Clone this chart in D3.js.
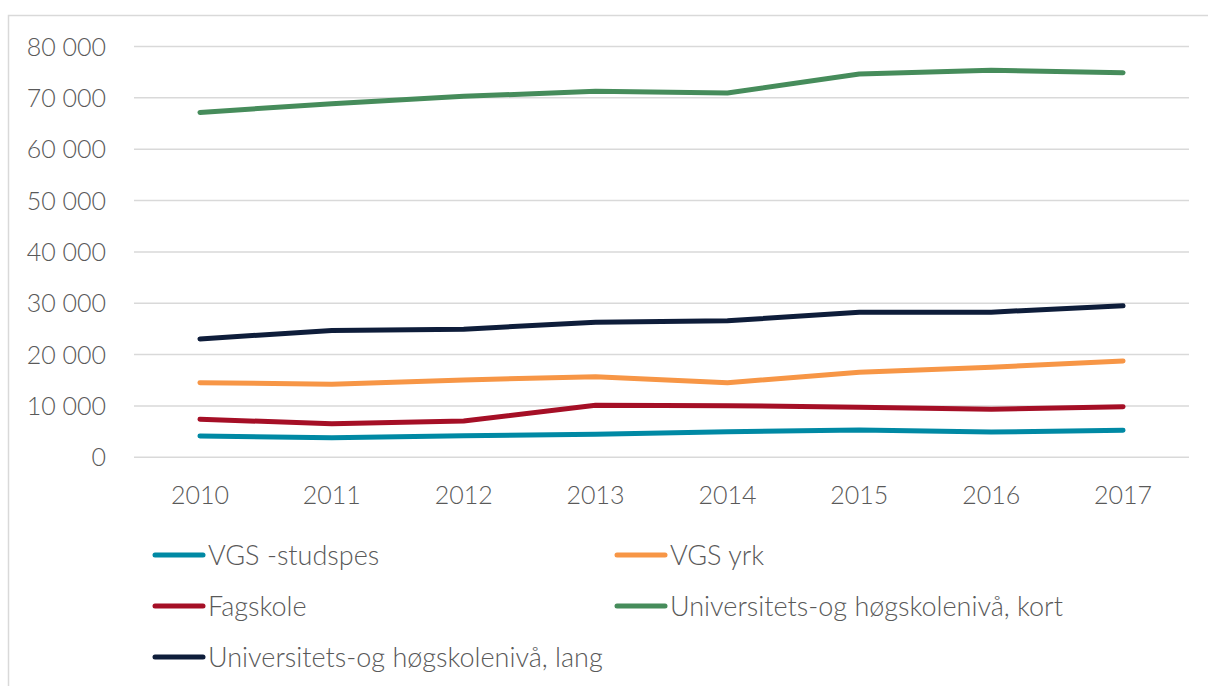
<!DOCTYPE html>
<html><head><meta charset="utf-8">
<script src="https://cdn.jsdelivr.net/npm/d3@7"></script>
<style>html,body{margin:0;padding:0;background:#fff;}svg{display:block;font-family:Lato,"Open Sans",sans-serif;font-weight:300;}</style>
</head><body>
<svg id="c" width="1208" height="686"></svg>
<script>
const years = ["2010","2011","2012","2013","2014","2015","2016","2017"];
const seriesNames = ["VGS -studspes","VGS yrk","Fagskole","Universitets-og høgskolenivå, kort","Universitets-og høgskolenivå, lang"];
const studspes = [4150,3820,4210,4480,4990,5320,4930,5260];
const yrk = [14540,14230,15070,15710,14540,16570,17540,18770];
const fagskole = [7410,6550,7080,10140,10060,9750,9360,9860];
const kort = [67170,68850,70290,71270,70950,74660,75360,74910];
const lang = [23060,24680,24950,26320,26570,28270,28270,29490];
const colors = ["#0089A4","#F79646","#A50F26","#468C5B","#0E1D3A"];
const yTicks = [0,10000,20000,30000,40000,50000,60000,70000,80000];

const values = [studspes, yrk, fagskole, kort, lang];
const svg = d3.select("#c");
svg.append("rect").attr("x",8.5).attr("y",15.5).attr("width",1250).attr("height",700)
  .attr("fill","none").attr("stroke","#d9d9d9").attr("stroke-width",1.5);

const x = d3.scaleBand().domain(years).range([134,1189]);
const y = d3.scaleLinear().domain([0,80000]).range([457.3,46.5]);
const fmt = v => d3.format(",")(v).replace(/,/g," ");

const g = svg.append("g");
g.selectAll("line.grid").data(yTicks).join("line").attr("class","grid")
  .attr("x1",134).attr("x2",1189).attr("y1",d=>y(d)).attr("y2",d=>y(d))
  .attr("stroke","#d9d9d9").attr("stroke-width",1.5);
g.selectAll("text.yl").data(yTicks).join("text").attr("class","yl")
  .attr("x",106).attr("y",d=>y(d)).attr("dy","0.36em").attr("text-anchor","end")
  .attr("fill","#595959").attr("font-size",25).text(fmt);
g.selectAll("text.xl").data(years).join("text").attr("class","xl")
  .attr("x",d=>x(d)+x.bandwidth()/2).attr("y",504).attr("text-anchor","middle")
  .attr("fill","#595959").attr("font-size",25).text(d=>d);

const line = d3.line().x((d,i)=>x(years[i])+x.bandwidth()/2).y(d=>y(d));
values.forEach((vals,k)=>{
  svg.append("path").datum(vals).attr("d",line).attr("fill","none")
    .attr("stroke",colors[k]).attr("stroke-width",5)
    .attr("stroke-linecap","round").attr("stroke-linejoin","round");
});

const legPos = [[155,555],[617,555],[155,606],[617,606],[155,657]];
seriesNames.forEach((n,k)=>{
  const [lx,ly] = legPos[k];
  svg.append("line").attr("x1",lx).attr("x2",lx+48).attr("y1",ly).attr("y2",ly)
    .attr("stroke",colors[k]).attr("stroke-width",5).attr("stroke-linecap","round");
  svg.append("text").attr("x",lx+53).attr("y",ly).attr("dy","0.36em")
    .attr("fill","#595959").attr("font-size",27).text(n);
});
</script>
</body></html>
